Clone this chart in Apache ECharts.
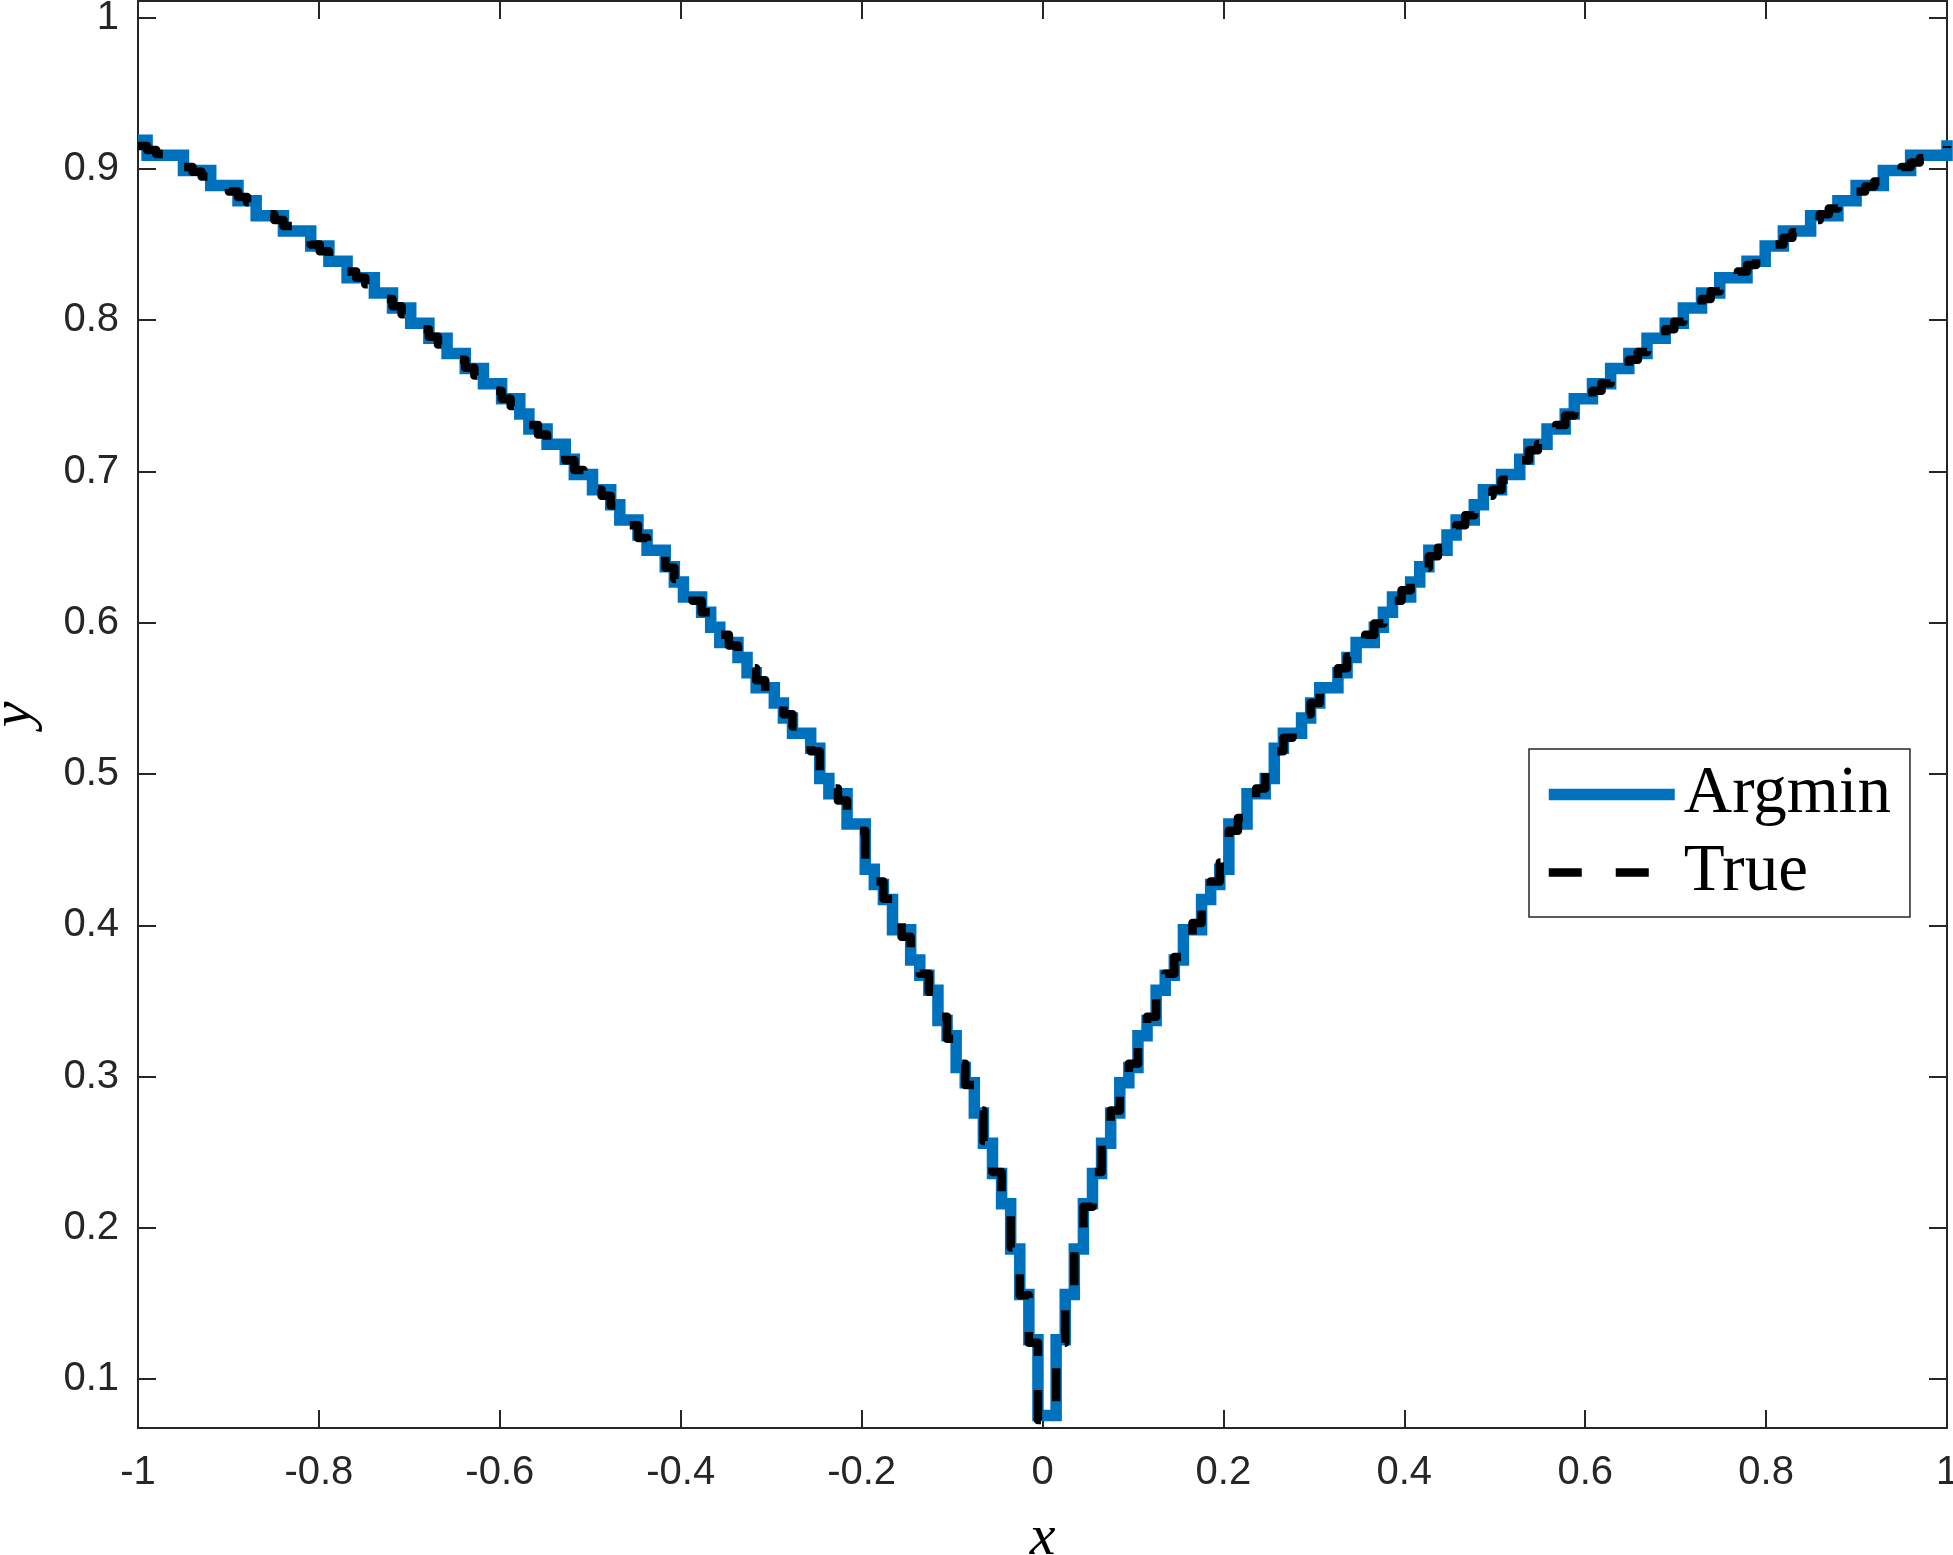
<!DOCTYPE html>
<html>
<head>
<meta charset="utf-8">
<script src="https://cdn.jsdelivr.net/npm/echarts@6/dist/echarts.min.js"></script>
<style>
  html, body { margin: 0; padding: 0; background: #fff; }
  #chart { width: 1953px; height: 1555px; }
</style>
</head>
<body>
<div id="chart"></div>
<script>
// sampling grid of the stairs: 200 points spread evenly from -1 to 1
const X_MIN = -1
const X_MAX = 1

// argmin on the y grid
const argminY = [
  0.919, 0.909, 0.909, 0.909, 0.909, 0.899, 0.899, 0.899, 0.889, 0.889,
  0.889, 0.879, 0.879, 0.869, 0.869, 0.869, 0.859, 0.859, 0.859, 0.849,
  0.849, 0.839, 0.839, 0.828, 0.828, 0.828, 0.818, 0.818, 0.808, 0.808,
  0.798, 0.798, 0.788, 0.788, 0.778, 0.778, 0.768, 0.768, 0.758, 0.758,
  0.748, 0.748, 0.738, 0.728, 0.728, 0.718, 0.718, 0.708, 0.698, 0.698,
  0.688, 0.688, 0.678, 0.668, 0.668, 0.658, 0.648, 0.648, 0.637, 0.627,
  0.617, 0.617, 0.607, 0.597, 0.587, 0.587, 0.577, 0.567, 0.557, 0.557,
  0.547, 0.537, 0.527, 0.527, 0.517, 0.497, 0.487, 0.487, 0.467, 0.467,
  0.437, 0.427, 0.417, 0.397, 0.397, 0.377, 0.367, 0.357, 0.337, 0.327,
  0.306, 0.296, 0.276, 0.256, 0.236, 0.216, 0.186, 0.156, 0.126, 0.076,
  0.076, 0.126, 0.156, 0.186, 0.216, 0.236, 0.256, 0.276, 0.296, 0.306,
  0.327, 0.337, 0.357, 0.367, 0.377, 0.397, 0.397, 0.417, 0.427, 0.437,
  0.467, 0.467, 0.487, 0.487, 0.497, 0.517, 0.527, 0.527, 0.537, 0.547,
  0.557, 0.557, 0.567, 0.577, 0.587, 0.587, 0.597, 0.607, 0.617, 0.617,
  0.627, 0.637, 0.648, 0.648, 0.658, 0.668, 0.668, 0.678, 0.688, 0.688,
  0.698, 0.698, 0.708, 0.718, 0.718, 0.728, 0.728, 0.738, 0.748, 0.748,
  0.758, 0.758, 0.768, 0.768, 0.778, 0.778, 0.788, 0.788, 0.798, 0.798,
  0.808, 0.808, 0.818, 0.818, 0.828, 0.828, 0.828, 0.839, 0.839, 0.849,
  0.849, 0.859, 0.859, 0.859, 0.869, 0.869, 0.869, 0.879, 0.879, 0.889,
  0.889, 0.889, 0.899, 0.899, 0.899, 0.909, 0.909, 0.909, 0.909, 0.919
]

// true values at the same samples (black dashed stairs)
const trueY = [
  0.9152, 0.9125, 0.9098, 0.9070, 0.9042, 0.9013, 0.8982, 0.8950, 0.8917, 0.8884,
  0.8850, 0.8815, 0.8780, 0.8738, 0.8700, 0.8662, 0.8622, 0.8582, 0.8545, 0.8500,
  0.8455, 0.8410, 0.8365, 0.8322, 0.8280, 0.8238, 0.8192, 0.8140, 0.8092, 0.8040,
  0.7990, 0.7940, 0.7890, 0.7840, 0.7790, 0.7738, 0.7686, 0.7635, 0.7584, 0.7534,
  0.7480, 0.7433, 0.7370, 0.7308, 0.7245, 0.7182, 0.7140, 0.7075, 0.7010, 0.6945,
  0.6880, 0.6840, 0.6775, 0.6710, 0.6645, 0.6560, 0.6495, 0.6440, 0.6365, 0.6290,
  0.6215, 0.6145, 0.6070, 0.5995, 0.5920, 0.5850, 0.5775, 0.5700, 0.5620, 0.5545,
  0.5470, 0.5395, 0.5315, 0.5240, 0.5150, 0.5015, 0.4905, 0.4825, 0.4710, 0.4625,
  0.4415, 0.4290, 0.4175, 0.4015, 0.3925, 0.3790, 0.3680, 0.3560, 0.3395, 0.3250,
  0.3085, 0.2945, 0.2775, 0.2575, 0.2370, 0.2140, 0.1870, 0.1555, 0.1240, 0.0730,
  0.0730, 0.1240, 0.1555, 0.1870, 0.2140, 0.2370, 0.2575, 0.2775, 0.2945, 0.3085,
  0.3250, 0.3395, 0.3560, 0.3680, 0.3790, 0.3925, 0.4015, 0.4175, 0.4290, 0.4415,
  0.4625, 0.4710, 0.4825, 0.4905, 0.5015, 0.5150, 0.5240, 0.5315, 0.5395, 0.5470,
  0.5545, 0.5620, 0.5700, 0.5775, 0.5850, 0.5920, 0.5995, 0.6070, 0.6145, 0.6215,
  0.6290, 0.6365, 0.6440, 0.6495, 0.6560, 0.6645, 0.6710, 0.6775, 0.6840, 0.6880,
  0.6945, 0.7010, 0.7075, 0.7140, 0.7182, 0.7245, 0.7308, 0.7370, 0.7433, 0.7480,
  0.7534, 0.7584, 0.7635, 0.7686, 0.7738, 0.7790, 0.7840, 0.7890, 0.7940, 0.7990,
  0.8040, 0.8092, 0.8140, 0.8192, 0.8238, 0.8280, 0.8322, 0.8365, 0.8410, 0.8455,
  0.8500, 0.8545, 0.8582, 0.8622, 0.8662, 0.8700, 0.8738, 0.8780, 0.8815, 0.8850,
  0.8884, 0.8917, 0.8950, 0.8982, 0.9013, 0.9042, 0.9070, 0.9098, 0.9125, 0.9152
]

const yTicks = [0.1, 0.2, 0.3, 0.4, 0.5, 0.6, 0.7, 0.8, 0.9, 1]
const seriesNames = ['Argmin', 'True']

const xs = argminY.map((_, i) => X_MIN + i * (X_MAX - X_MIN) / (argminY.length - 1))
const pairs = ys => ys.map((y, i) => [xs[i], y])

const axisColor = '#262626'
const tickFont = { fontFamily: 'Liberation Sans', fontSize: 40, color: axisColor }
const nameFont = { fontFamily: 'Liberation Serif', fontStyle: 'italic', fontSize: 58, color: '#000' }

function xAxisOpt(position, showLabel) {
  return {
    type: 'value', position, min: X_MIN, max: X_MAX, interval: 0.2,
    axisLine: { onZero: false, lineStyle: { color: axisColor, width: 2 } },
    axisTick: { inside: true, length: 18, lineStyle: { color: axisColor, width: 2 } },
    axisLabel: { show: showLabel, margin: 25, ...tickFont },
    splitLine: { show: false },
  }
}

function yAxisOpt(position, showLabel) {
  return {
    type: 'value', position, min: 0.0677, max: 1.011,
    axisLine: { onZero: false, lineStyle: { color: axisColor, width: 2 } },
    axisTick: { inside: true, length: 18, customValues: yTicks, lineStyle: { color: axisColor, width: 2 } },
    axisLabel: { show: showLabel, margin: 19, customValues: yTicks, ...tickFont },
    splitLine: { show: false },
  }
}

const chart = echarts.init(document.getElementById('chart'), null, { renderer: 'canvas' })

const bottomX = xAxisOpt('bottom', true)
bottomX.name = 'x'
bottomX.nameLocation = 'middle'
bottomX.nameGap = 82
bottomX.nameTextStyle = nameFont

const leftY = yAxisOpt('left', true)
leftY.name = 'y'
leftY.nameLocation = 'middle'
leftY.nameGap = 94
leftY.nameRotate = 90
leftY.nameTextStyle = nameFont

chart.setOption({
  animation: false,
  backgroundColor: '#fff',
  grid: { left: 138, right: 6, top: 1, bottom: 127, outerBoundsMode: 'none' },
  xAxis: [bottomX, xAxisOpt('top', false)],
  yAxis: [leftY, yAxisOpt('right', false)],
  legend: {
    orient: 'vertical',
    left: 1529,
    top: 749,
    backgroundColor: '#fff',
    borderColor: axisColor,
    borderWidth: 1.5,
    borderRadius: 0,
    padding: [12, 19, 11, 14],
    itemWidth: 126,
    itemHeight: 12,
    itemGap: 11,
    lineStyle: { width: 'inherit' },
    itemStyle: { color: 'rgba(0,0,0,0)', borderWidth: 0 },
    textStyle: { fontFamily: 'Liberation Serif', fontSize: 67, lineHeight: 67, color: '#000', padding: [0, 0, 0, 4] },
    data: seriesNames,
  },
  series: [
    {
      name: seriesNames[0],
      type: 'line',
      step: 'end',
      data: pairs(argminY),
      symbol: 'none',
      clip: false,
      lineStyle: { color: '#0072BD', width: 11.5, join: 'miter', cap: 'butt' },
      itemStyle: { color: '#0072BD' },
      z: 2,
    },
    {
      name: seriesNames[1],
      type: 'line',
      step: 'end',
      data: pairs(trueY),
      symbol: 'none',
      clip: false,
      lineStyle: { color: '#000', width: 8.5, type: [33, 34], join: 'round', cap: 'butt' },
      itemStyle: { color: '#000' },
      z: 3,
    },
  ],
})
</script>
</body>
</html>
